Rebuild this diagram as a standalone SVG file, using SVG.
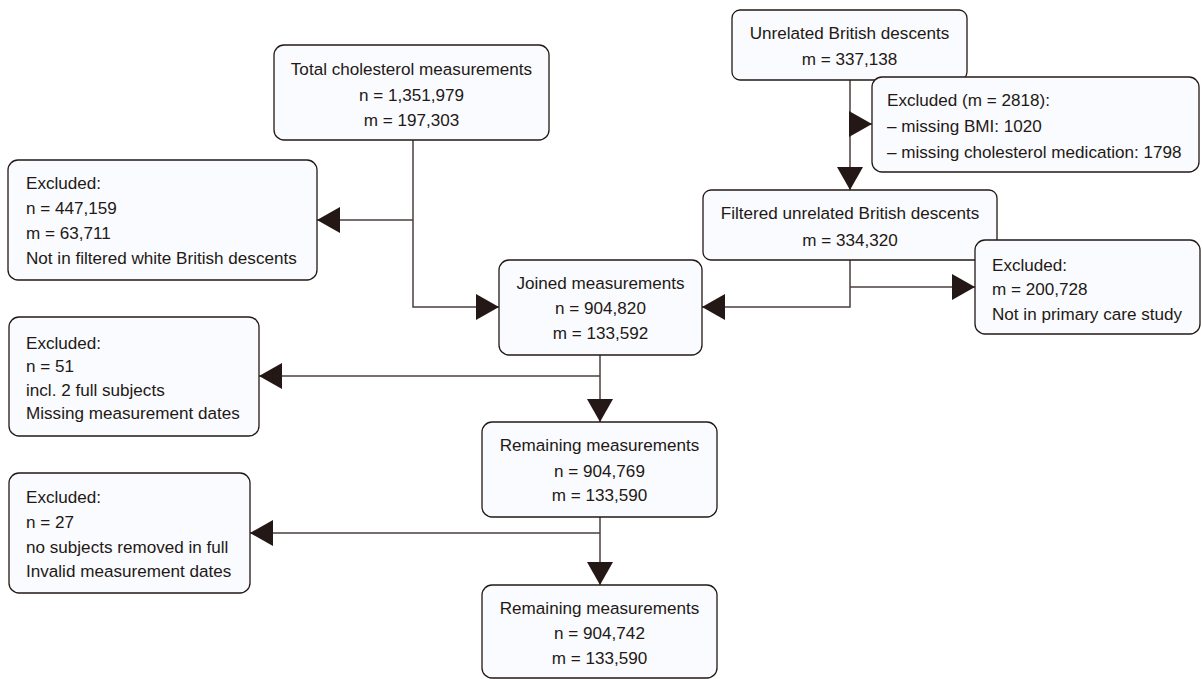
<svg xmlns="http://www.w3.org/2000/svg" width="1202" height="679" viewBox="0 0 1202 679">
<style>
.box{fill:#f9fbfe;stroke:#231815;stroke-width:1.3}
.t{font-family:"Liberation Sans",Arial,sans-serif;font-size:17.1px;fill:#231815}
.c{text-anchor:middle}
.con{fill:none;stroke:#4a3f3d;stroke-width:1.5}
</style>
<defs>
<marker id="ah" markerUnits="userSpaceOnUse" markerWidth="24" markerHeight="26" viewBox="0 0 23 26" refX="23" refY="13" orient="auto">
<path d="M0,0 L23,13 L0,26 Z" fill="#231815"/>
</marker>
</defs>
<rect width="1202" height="679" fill="#ffffff"/>
<g id="connectors">
<polyline class="con" points="413,140 413,307 499,307" marker-end="url(#ah)"/>
<polyline class="con" points="413,220 317,220" marker-end="url(#ah)"/>
<polyline class="con" points="850,80 850,190" marker-end="url(#ah)"/>
<polyline class="con" points="849,124 872,124" marker-end="url(#ah)"/>
<polyline class="con" points="850,260 850,307 702,307" marker-end="url(#ah)"/>
<polyline class="con" points="850,287 975,287" marker-end="url(#ah)"/>
<polyline class="con" points="600,355 600,422" marker-end="url(#ah)"/>
<polyline class="con" points="600,376 259,376" marker-end="url(#ah)"/>
<polyline class="con" points="600,517 600,585" marker-end="url(#ah)"/>
<polyline class="con" points="600,533 250,533" marker-end="url(#ah)"/>
</g>
<g id="total">
<rect class="box" x="274" y="45" width="275" height="95" rx="10"/>
<text class="t c" x="411.5" y="75">Total cholesterol measurements</text>
<text class="t c" x="411.5" y="101">n = 1,351,979</text>
<text class="t c" x="411.5" y="126">m = 197,303</text>
</g>
<g id="excluded1">
<rect class="box" x="8" y="160" width="309" height="120" rx="10"/>
<text class="t" x="26" y="189">Excluded:</text>
<text class="t" x="26" y="214">n = 447,159</text>
<text class="t" x="26" y="239">m = 63,711</text>
<text class="t" x="26" y="264">Not in filtered white British descents</text>
</g>
<g id="unrelated">
<rect class="box" x="732" y="10" width="235" height="70" rx="8"/>
<text class="t c" x="849.5" y="39">Unrelated British descents</text>
<text class="t c" x="849.5" y="65">m = 337,138</text>
</g>
<g id="excluded2818">
<rect class="box" x="872" y="77" width="327" height="95" rx="10"/>
<text class="t" x="887" y="106">Excluded (m = 2818):</text>
<text class="t" x="887" y="132">– missing BMI: 1020</text>
<text class="t" x="887" y="158">– missing cholesterol medication: 1798</text>
</g>
<g id="filtered">
<rect class="box" x="703" y="190" width="294" height="70" rx="8"/>
<text class="t c" x="850" y="219">Filtered unrelated British descents</text>
<text class="t c" x="850" y="246">m = 334,320</text>
</g>
<g id="excluded200728">
<rect class="box" x="975" y="240" width="225" height="94" rx="10"/>
<text class="t" x="992" y="271">Excluded:</text>
<text class="t" x="992" y="295">m = 200,728</text>
<text class="t" x="992" y="320">Not in primary care study</text>
</g>
<g id="joined">
<rect class="box" x="499" y="260" width="203" height="95" rx="10"/>
<text class="t c" x="600.5" y="289">Joined measurements</text>
<text class="t c" x="600.5" y="314">n = 904,820</text>
<text class="t c" x="600.5" y="339">m = 133,592</text>
</g>
<g id="excluded51">
<rect class="box" x="9" y="317" width="250" height="119" rx="10"/>
<text class="t" x="26" y="349">Excluded:</text>
<text class="t" x="26" y="372">n = 51</text>
<text class="t" x="26" y="396">incl. 2 full subjects</text>
<text class="t" x="26" y="419">Missing measurement dates</text>
</g>
<g id="remaining1">
<rect class="box" x="482" y="422" width="235" height="95" rx="10"/>
<text class="t c" x="599.5" y="451">Remaining measurements</text>
<text class="t c" x="599.5" y="477">n = 904,769</text>
<text class="t c" x="599.5" y="501">m = 133,590</text>
</g>
<g id="excluded27">
<rect class="box" x="9" y="473" width="241" height="120" rx="10"/>
<text class="t" x="26" y="503">Excluded:</text>
<text class="t" x="26" y="528">n = 27</text>
<text class="t" x="26" y="553">no subjects removed in full</text>
<text class="t" x="26" y="577">Invalid measurement dates</text>
</g>
<g id="remaining2">
<rect class="box" x="482" y="585" width="235" height="93" rx="10"/>
<text class="t c" x="599.5" y="614">Remaining measurements</text>
<text class="t c" x="599.5" y="639">n = 904,742</text>
<text class="t c" x="599.5" y="664">m = 133,590</text>
</g>
</svg>
